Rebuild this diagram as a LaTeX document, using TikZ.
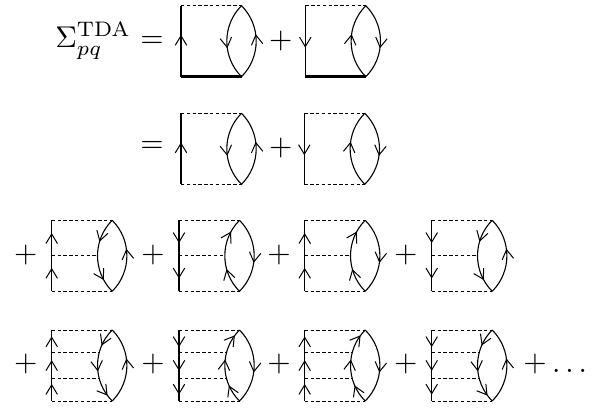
\documentclass[tikz,border=0pt]{standalone}
\usetikzlibrary{arrows.meta,decorations.markings}
\tikzset{
  >={Straight Barb[length=9.5pt,width=11.5pt,line width=1pt]},
  fermion/.style={line width=1.1pt},
  ladder/.style={line width=0.9pt,dash pattern=on 3.4pt off 2.4pt},
  dressed/.style={line width=3pt},
  term/.style={scale=3,inner sep=0pt},
  flow/.style n args={4}{postaction={decorate,decoration={markings,
    mark=between positions #1 and #2 step #3 with {#4}}}},
  dn1/.style={flow={0.59}{0.6}{1}{\arrow{>}}},
  dn2/.style={flow={0.32}{0.83}{0.5}{\arrow{>}}},
  dn3/.style={flow={0.24}{0.92}{0.335}{\arrow{>}}},
  up1/.style={flow={0.41}{0.42}{1}{\arrowreversed{>}}},
  up2/.style={flow={0.18}{0.68}{0.49}{\arrowreversed{>}}},
  up3/.style={flow={0.09}{0.77}{0.335}{\arrowreversed{>}}},
}
% name, left x, top y, line, left arc, right arc, arrows per line, lower edge
\newcommand{\bubble}[8]{
  \coordinate (#1tl) at (#2,#3);
  \coordinate (#1tr) at (#2+60.5,#3);
  \coordinate (#1bl) at (#2,#3+71);
  \coordinate (#1br) at (#2+60.5,#3+71);
  \draw[ladder] (#1tl) -- (#1tr);
  \draw[#8] (#1bl) -- (#1br);
  \draw[fermion,#4#7] (#1tl) -- (#1bl);
  \draw[fermion,#5#7] (#1tr) to[bend right=45] (#1br);
  \draw[fermion,#61] (#1tr) to[bend left=45] (#1br);
}
% name, position on the left arc
\newcommand{\rung}[2]{
  \path (#1tr) to[bend right=45] coordinate[pos=#2] (#1m) (#1br);
  \draw[ladder] (#1tl |- #1m) -- (#1m);
}
\begin{document}
\begin{tikzpicture}[x=1pt,y=-1pt]
  \useasboundingbox (0,0) rectangle (600,411);

  \node[term] (sigma) at (93,41) {$\Sigma_{pq}^{\mathrm{TDA}}$};
  \node[term] (eqa) at (152,42) {$=$};
  \node[term] (eqb) at (152,147) {$=$};
  \node[term] (plusa) at (280.7,41) {$+$};
  \node[term] (plusb) at (280.7,148) {$+$};

  \bubble{a}{181}{5.7}{up}{dn}{up}{1}{dressed}
  \bubble{b}{305.3}{5.7}{dn}{up}{dn}{1}{dressed}
  \bubble{c}{181}{113.3}{up}{dn}{up}{1}{ladder}
  \bubble{d}{304.3}{113.3}{dn}{up}{dn}{1}{ladder}

  \foreach \nm/\x/\ln/\la/\ra in {e/51.7/up/dn/up,f/179/dn/up/dn,g/304.7/up/up/dn,h/431.7/dn/dn/up}{
    \bubble{\nm}{\x}{220.3}{\ln}{\la}{\ra}{2}{ladder}
    \rung{\nm}{0.5}
  }
  \foreach \nm/\x/\ln/\la/\ra in {i/51.7/up/dn/up,j/179/dn/up/dn,k/304.7/up/up/dn,l/431.7/dn/dn/up}{
    \bubble{\nm}{\x}{330}{\ln}{\la}{\ra}{3}{ladder}
    \rung{\nm}{0.33}
    \rung{\nm}{0.67}
  }

  \foreach \x [count=\i] in {25.7,153,279,405.7}{
    \node[term] (plusc\i) at (\x,255) {$+$};
  }
  \foreach \x [count=\i] in {25.7,153,279,405.7,535}{
    \node[term] (plusd\i) at (\x,364) {$+$};
  }
  \node[term] (more) at (569.5,371) {$\dots$};
\end{tikzpicture}
\end{document}
